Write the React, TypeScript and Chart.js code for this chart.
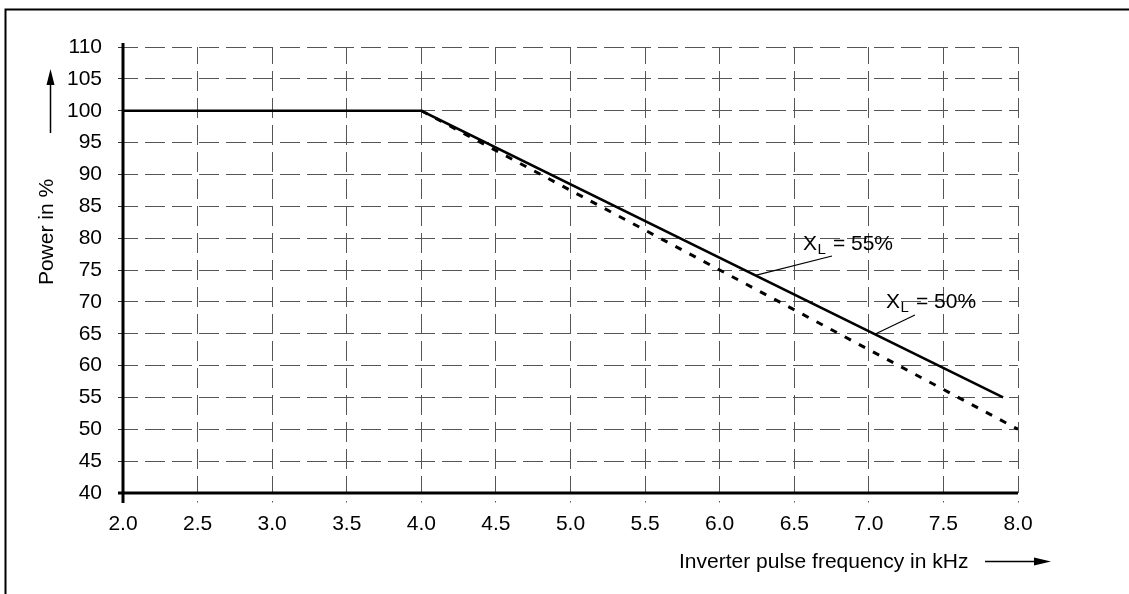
import React, { useEffect, useRef } from "react";
import { Chart, registerables } from "chart.js";

Chart.register(...registerables);

// ---- data ----
const freqXL55 = [2.0, 4.0, 7.9];
const powerXL55 = [100, 100, 55];
const freqXL50 = [4.0, 8.0];
const powerXL50 = [100, 50];

const xTickValues = [2.0, 2.5, 3.0, 3.5, 4.0, 4.5, 5.0, 5.5, 6.0, 6.5, 7.0, 7.5, 8.0];
const yTickValues = [40, 45, 50, 55, 60, 65, 70, 75, 80, 85, 90, 95, 100, 105, 110];

const yTitle = "Power in %";
const xTitle = "Inverter pulse frequency in kHz";
const label55 = { main: "X", sub: "L", rest: "= 55%" };
const label50 = { main: "X", sub: "L", rest: "= 50%" };

const FONT = "'Liberation Sans', Arial, Helvetica, sans-serif";
const FS = 21;

const decor = {
  id: "decor",
  afterDraw(chart: any) {
    const { ctx, chartArea } = chart;
    const xs = chart.scales.x;
    const ys = chart.scales.y;
    ctx.save();
    // outer frame
    ctx.strokeStyle = "#000";
    ctx.lineWidth = 2;
    ctx.strokeRect(5.5, 9.5, chart.width + 20, chart.height + 20);

    // axes
    ctx.lineWidth = 3;
    ctx.lineCap = "butt";
    ctx.beginPath();
    ctx.moveTo(chartArea.left, chartArea.top - 4);
    ctx.lineTo(chartArea.left, chartArea.bottom + 10);
    ctx.moveTo(chartArea.left - 5, chartArea.bottom);
    ctx.lineTo(chartArea.right, chartArea.bottom);
    ctx.stroke();

    ctx.fillStyle = "#000";
    ctx.font = `${FS}px ${FONT}`;

    // y title
    ctx.save();
    ctx.translate(47, 232);
    ctx.rotate(-Math.PI / 2);
    ctx.textAlign = "center";
    ctx.textBaseline = "middle";
    ctx.fillText(yTitle, 0, 0);
    ctx.restore();
    // y arrow
    ctx.lineWidth = 1.5;
    ctx.beginPath();
    ctx.moveTo(50.5, 133);
    ctx.lineTo(50.5, 82);
    ctx.stroke();
    ctx.beginPath();
    ctx.moveTo(50.5, 69);
    ctx.lineTo(46.5, 85);
    ctx.lineTo(54.5, 85);
    ctx.closePath();
    ctx.fill();

    // x title
    ctx.textAlign = "left";
    ctx.textBaseline = "middle";
    ctx.fillText(xTitle, 679, 562);
    ctx.beginPath();
    ctx.moveTo(985, 561.5);
    ctx.lineTo(1038, 561.5);
    ctx.stroke();
    ctx.beginPath();
    ctx.moveTo(1051, 561.5);
    ctx.lineTo(1034, 557.5);
    ctx.lineTo(1034, 565.5);
    ctx.closePath();
    ctx.fill();

    // annotations
    const drawLabel = (lab: any, tx: number, ty: number, lx0: number, ly0: number, lx1: number, ly1: number) => {
      const px = xs.getPixelForValue(tx);
      const py = ys.getPixelForValue(ty);
      ctx.textBaseline = "alphabetic";
      ctx.textAlign = "left";
      ctx.font = `${FS}px ${FONT}`;
      ctx.fillText(lab.main, px, py);
      ctx.font = `15px ${FONT}`;
      ctx.fillText(lab.sub, px + 14.5, py + 4);
      ctx.font = `${FS}px ${FONT}`;
      ctx.fillText(lab.rest, px + 30, py);
      ctx.lineWidth = 1.2;
      ctx.beginPath();
      ctx.moveTo(xs.getPixelForValue(lx0), ys.getPixelForValue(ly0));
      ctx.lineTo(xs.getPixelForValue(lx1), ys.getPixelForValue(ly1));
      ctx.stroke();
    };
    drawLabel(label55, 6.558, 78.14, 6.24, 74.15, 6.753, 77.2);
    drawLabel(label50, 7.115, 69.04, 7.04, 64.92, 7.309, 67.94);

    ctx.restore();
  },
};

export default function App() {
  const ref = useRef<HTMLCanvasElement>(null);
  useEffect(() => {
    const canvas = ref.current;
    if (!canvas) return;
    const chart = new Chart(canvas, {
      type: "line",
      data: {
        datasets: [
          {
            label: "XL = 55%",
            data: freqXL55.map((f, i) => ({ x: f, y: powerXL55[i] })),
            borderColor: "#000",
            borderWidth: 2.6,
            pointRadius: 0,
            tension: 0,
            fill: false,
            order: 0,
          },
          {
            label: "XL = 50%",
            data: freqXL50.map((f, i) => ({ x: f, y: powerXL50[i] })),
            borderColor: "#000",
            borderWidth: 3,
            borderDash: [7, 9],
            pointRadius: 0,
            tension: 0,
            fill: false,
            order: 1,
          },
        ],
      },
      options: {
        responsive: false,
        animation: false,
        devicePixelRatio: 1,
        layout: { padding: { top: 47, right: 111, left: 0, bottom: 0 } },
        plugins: { legend: { display: false }, tooltip: { enabled: false } },
        scales: {
          x: {
            type: "linear",
            min: 2,
            max: 8,
            afterFit: (s: any) => {
              s.height = 101;
            },
            afterBuildTicks: (s: any) => {
              s.ticks = xTickValues.map((v) => ({ value: v }));
            },
            ticks: {
              callback: (v: any) => Number(v).toFixed(1),
              color: "#000",
              font: { family: FONT, size: FS },
              padding: 9,
              maxRotation: 0,
              autoSkip: false,
            },
            grid: {
              color: "#555",
              lineWidth: 1,
              tickLength: 10,
              tickColor: "#555",
              tickBorderDash: [0, 8, 1.5, 30],
            },
            border: { display: false, dash: [20, 7], dashOffset: 3 },
          },
          y: {
            type: "linear",
            min: 40,
            max: 110,
            afterFit: (s: any) => {
              s.width = 123;
            },
            afterBuildTicks: (s: any) => {
              s.ticks = yTickValues.map((v) => ({ value: v }));
            },
            ticks: {
              color: "#000",
              font: { family: FONT, size: FS },
              padding: 16,
              autoSkip: false,
            },
            grid: {
              color: "#555",
              lineWidth: 1,
              tickLength: 5,
              tickColor: "#333",
            },
            border: { display: false, dash: [20, 7], dashOffset: 5 },
          },
        },
      },
      plugins: [decor],
    });
    return () => chart.destroy();
  }, []);
  return (
    <div style={{ position: "fixed", left: 0, top: 0, width: 1129, height: 594, background: "#fff" }}>
      <canvas ref={ref} width={1129} height={594} style={{ width: 1129, height: 594, display: "block" }} />
    </div>
  );
}
